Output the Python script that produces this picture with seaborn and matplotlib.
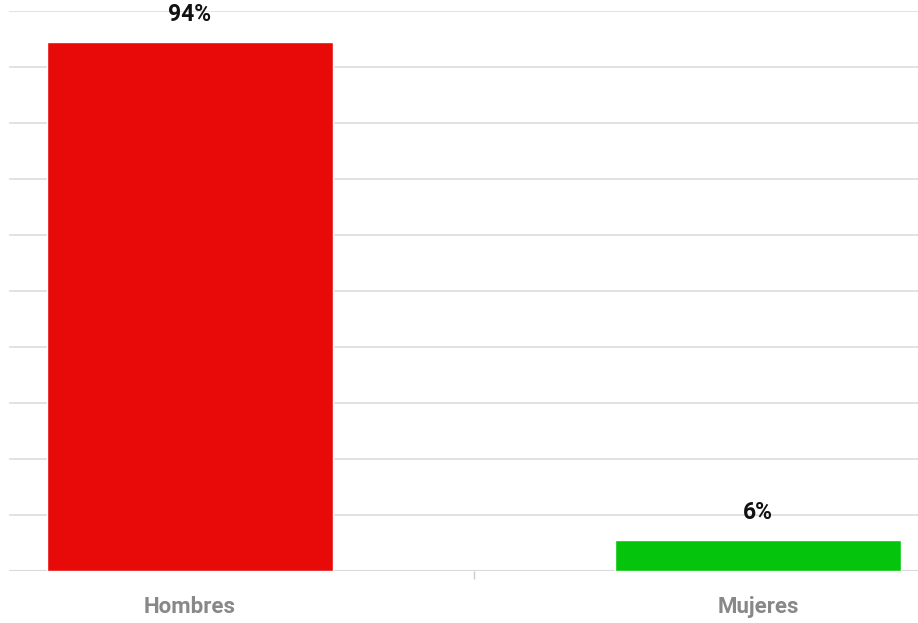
import pandas as pd
import seaborn as sns
import matplotlib.pyplot as plt

# Datos
categorias = ["Hombres", "Mujeres"]
porcentajes = [94.4, 5.6]
colores = ["#E80909", "#04C40C"]

df = pd.DataFrame({"sexo": categorias, "pct": porcentajes})

sns.set_style("white")
plt.rcParams["font.family"] = ["Roboto", "DejaVu Sans"]

fig = plt.figure(figsize=(9.18, 6.23), dpi=100)
ax = fig.add_axes([9 / 918, 52 / 623, 909 / 918, 560 / 623])

sns.barplot(data=df, x="sexo", y="pct", hue="sexo", palette=colores,
            width=0.505, saturation=1, legend=False, ax=ax)

# Etiquetas de valor
for cont in ax.containers:
    ax.bar_label(cont, labels=[f"{round(v)}%" for v in cont.datavalues],
                 padding=11.5, fontsize=16.5, fontweight="bold", color="#111111")

# Ejes y rejilla
ax.set_ylim(0, 100)
ax.set_yticks(range(0, 101, 10))
ax.set_xlim(-0.3187, 1.2817)
ax.yaxis.grid(True, color="#dddddd", linewidth=1.2)
ax.set_axisbelow(True)
ax.tick_params(axis="y", left=False, labelleft=False)
ax.tick_params(axis="x", which="major", bottom=False, length=0, pad=18,
               labelsize=16, labelcolor="#888888")
ax.set_xticks([0.5], minor=True)
ax.tick_params(axis="x", which="minor", bottom=True, length=6,
               color="#cccccc", width=1)
for lbl in ax.get_xticklabels():
    lbl.set_fontweight("bold")
sns.despine(ax=ax, left=True, top=True, right=True, bottom=True)
ax.axhline(0, color="#cccccc", linewidth=1.5, zorder=0)
ax.set_xlabel("")
ax.set_ylabel("")

fig.savefig("out.png", dpi=100)
